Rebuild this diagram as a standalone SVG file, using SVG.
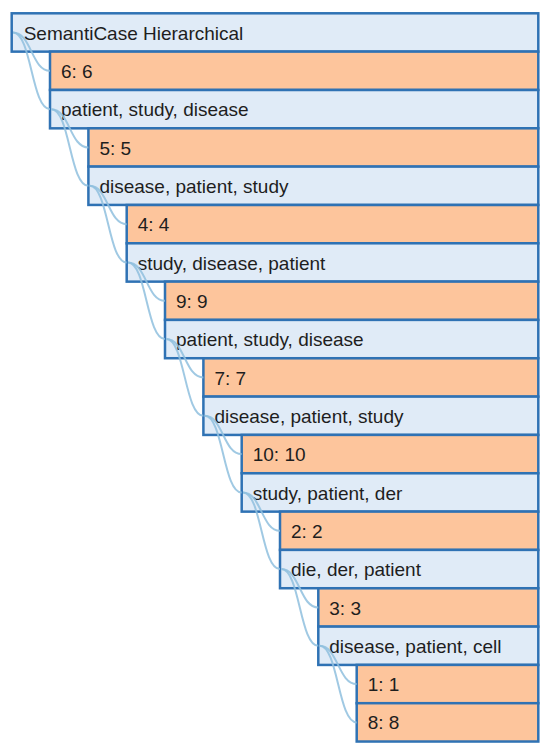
<svg xmlns="http://www.w3.org/2000/svg" width="550" height="752" viewBox="0 0 550 752">
<style>
.box{stroke:#2f72b4;stroke-width:2.5}
.topic{fill:#e0ebf7}
.leaf{fill:#fdc59c}
text{font-family:"Liberation Sans",Arial,sans-serif;font-size:19px;fill:#1e1e1e}
.links path{fill:none;stroke:#8fc0de;stroke-width:2;stroke-opacity:0.85}
</style>
<rect width="550" height="752" fill="#ffffff"/>
<g id="nodes">
<g id="n0"><rect class="box topic" x="11.7" y="13.3" width="526.6" height="38.33"/><text x="23.7" y="39.5">SemantiCase Hierarchical</text></g>
<g id="n1"><rect class="box leaf" x="50" y="51.6" width="488.3" height="38.33"/><text x="61" y="77.8">6: 6</text></g>
<g id="n2"><rect class="box topic" x="50" y="90" width="488.3" height="38.33"/><text x="61" y="116.2">patient, study, disease</text></g>
<g id="n3"><rect class="box leaf" x="88.4" y="128.3" width="449.9" height="38.33"/><text x="99.4" y="154.5">5: 5</text></g>
<g id="n4"><rect class="box topic" x="88.4" y="166.6" width="449.9" height="38.33"/><text x="99.4" y="192.8">disease, patient, study</text></g>
<g id="n5"><rect class="box leaf" x="126.7" y="205" width="411.6" height="38.33"/><text x="137.7" y="231.2">4: 4</text></g>
<g id="n6"><rect class="box topic" x="126.7" y="243.3" width="411.6" height="38.33"/><text x="137.7" y="269.5">study, disease, patient</text></g>
<g id="n7"><rect class="box leaf" x="165" y="281.6" width="373.3" height="38.33"/><text x="176" y="307.8">9: 9</text></g>
<g id="n8"><rect class="box topic" x="165" y="319.9" width="373.3" height="38.33"/><text x="176" y="346.1">patient, study, disease</text></g>
<g id="n9"><rect class="box leaf" x="203.4" y="358.3" width="334.9" height="38.33"/><text x="214.4" y="384.5">7: 7</text></g>
<g id="n10"><rect class="box topic" x="203.4" y="396.6" width="334.9" height="38.33"/><text x="214.4" y="422.8">disease, patient, study</text></g>
<g id="n11"><rect class="box leaf" x="241.7" y="434.9" width="296.6" height="38.33"/><text x="252.7" y="461.1">10: 10</text></g>
<g id="n12"><rect class="box topic" x="241.7" y="473.3" width="296.6" height="38.33"/><text x="252.7" y="499.5">study, patient, der</text></g>
<g id="n13"><rect class="box leaf" x="280" y="511.6" width="258.3" height="38.33"/><text x="291" y="537.8">2: 2</text></g>
<g id="n14"><rect class="box topic" x="280" y="549.9" width="258.3" height="38.33"/><text x="291" y="576.1">die, der, patient</text></g>
<g id="n15"><rect class="box leaf" x="318.3" y="588.3" width="220" height="38.33"/><text x="329.3" y="614.5">3: 3</text></g>
<g id="n16"><rect class="box topic" x="318.3" y="626.6" width="220" height="38.33"/><text x="329.3" y="652.8">disease, patient, cell</text></g>
<g id="n17"><rect class="box leaf" x="356.7" y="664.9" width="181.6" height="38.33"/><text x="367.7" y="691.1">1: 1</text></g>
<g id="n18"><rect class="box leaf" x="356.7" y="703.2" width="181.6" height="38.33"/><text x="367.7" y="729.4">8: 8</text></g>
</g>
<g class="links" id="connectors">
<path d="M13,32.5 C31.5,32.5 31.5,70.8 50,70.8"/>
<path d="M13,32.5 C31.5,32.5 31.5,109.2 50,109.2"/>
<path d="M51.3,109.2 C69.8,109.2 69.8,147.5 88.4,147.5"/>
<path d="M51.3,109.2 C69.8,109.2 69.8,185.8 88.4,185.8"/>
<path d="M89.7,185.8 C108.2,185.8 108.2,224.2 126.7,224.2"/>
<path d="M89.7,185.8 C108.2,185.8 108.2,262.5 126.7,262.5"/>
<path d="M128,262.5 C146.5,262.5 146.5,300.8 165,300.8"/>
<path d="M128,262.5 C146.5,262.5 146.5,339.1 165,339.1"/>
<path d="M166.3,339.1 C184.8,339.1 184.8,377.5 203.4,377.5"/>
<path d="M166.3,339.1 C184.8,339.1 184.8,415.8 203.4,415.8"/>
<path d="M204.7,415.8 C223.2,415.8 223.2,454.1 241.7,454.1"/>
<path d="M204.7,415.8 C223.2,415.8 223.2,492.5 241.7,492.5"/>
<path d="M243,492.5 C261.5,492.5 261.5,530.8 280,530.8"/>
<path d="M243,492.5 C261.5,492.5 261.5,569.1 280,569.1"/>
<path d="M281.3,569.1 C299.8,569.1 299.8,607.5 318.3,607.5"/>
<path d="M281.3,569.1 C299.8,569.1 299.8,645.8 318.3,645.8"/>
<path d="M319.6,645.8 C338.1,645.8 338.1,684.1 356.7,684.1"/>
<path d="M319.6,645.8 C338.1,645.8 338.1,722.4 356.7,722.4"/>
</g>
</svg>
